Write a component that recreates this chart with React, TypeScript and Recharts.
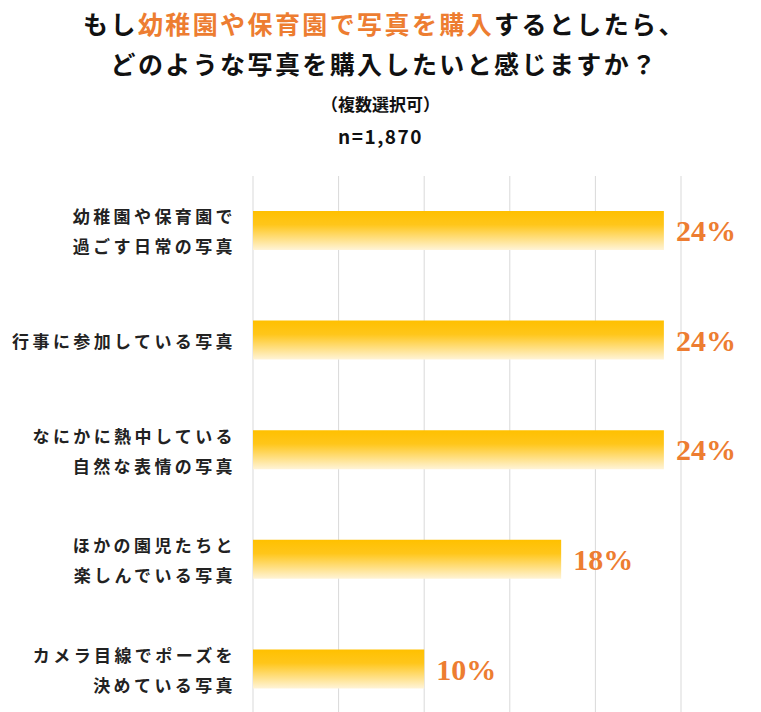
import React from 'react';
import { BarChart, Bar, XAxis, YAxis, CartesianGrid, LabelList } from 'recharts';

const categories = [
  '幼稚園や保育園で\n過ごす日常の写真',
  '行事に参加している写真',
  'なにかに熱中している\n自然な表情の写真',
  'ほかの園児たちと\n楽しんでいる写真',
  'カメラ目線でポーズを\n決めている写真',
];
const values = [24, 24, 24, 18, 10];
const xTicks = [0, 5, 10, 15, 20, 25];

const data = categories.map((name, i) => ({ name, value: values[i] }));

const JP = '"Noto Sans CJK JP", "Noto Sans", sans-serif';

const CategoryTick = (props: any) => {
  const { y, payload } = props;
  const lines = String(payload.value).split('\n');
  const start = -((lines.length - 1) * 30) / 2;
  return (
    <text
      x={236}
      y={y}
      textAnchor="end"
      fontFamily={JP}
      fontWeight={700}
      fontSize={17}
      letterSpacing={3.4}
      fill="#222"
    >
      {lines.map((line, i) => (
        <tspan key={i} x={236} y={y + start + i * 30} dominantBaseline="central">
          {line}
        </tspan>
      ))}
    </text>
  );
};

const App = () => {
  return (
    <div
      style={{
        position: 'absolute',
        left: 0,
        top: 0,
        width: 761,
        height: 712,
        overflow: 'hidden',
        background: '#fff',
      }}
    >
      <div
        style={{
          position: 'absolute',
          left: 4,
          top: 3,
          width: 761,
          textAlign: 'center',
          fontFamily: JP,
          fontWeight: 700,
          fontSize: 25,
          letterSpacing: 2.4,
          lineHeight: '40px',
          color: '#111',
        }}
      >
        <div>
          もし<span style={{ color: '#ED7D31' }}>幼稚園や保育園で写真を購入</span>するとしたら、
        </div>
        <div>どのような写真を購入したいと感じますか？</div>
      </div>
      <div
        style={{
          position: 'absolute',
          left: 0,
          top: 88,
          width: 761,
          textAlign: 'center',
          fontFamily: JP,
          fontWeight: 700,
          fontSize: 17,
          lineHeight: '32px',
          color: '#111',
        }}
      >
        <div>（複数選択可）</div>
        <div style={{ fontSize: 19, letterSpacing: 1.5 }}>n=1,870</div>
      </div>
      <div style={{ position: 'absolute', left: 0, top: 0 }}>
        <BarChart
          width={761}
          height={740}
          data={data}
          layout="vertical"
          margin={{ top: 176, right: 80, bottom: 16, left: 0 }}
        >
          <defs>
            <linearGradient id="barFill" x1="0" y1="0" x2="0" y2="1">
              <stop offset="0%" stopColor="#FFC000" />
              <stop offset="35%" stopColor="#FFC61A" />
              <stop offset="100%" stopColor="#FFF4D8" />
            </linearGradient>
          </defs>
          <CartesianGrid horizontal={false} stroke="#D9D9D9" />
          <XAxis type="number" domain={[0, 25]} ticks={xTicks} hide />
          <YAxis
            type="category"
            dataKey="name"
            width={253}
            axisLine={false}
            tickLine={false}
            tick={<CategoryTick />}
            interval={0}
          />
          <Bar dataKey="value" fill="url(#barFill)" barSize={39} isAnimationActive={false}>
            <LabelList
              dataKey="value"
              position="right"
              offset={12}
              formatter={(v: any) => `${v}%`}
              fill="#ED7D31"
              fontFamily='"Liberation Serif", "DejaVu Serif", serif'
              fontWeight={700}
              fontSize={30}
            />
          </Bar>
        </BarChart>
      </div>
    </div>
  );
};

export default App;
